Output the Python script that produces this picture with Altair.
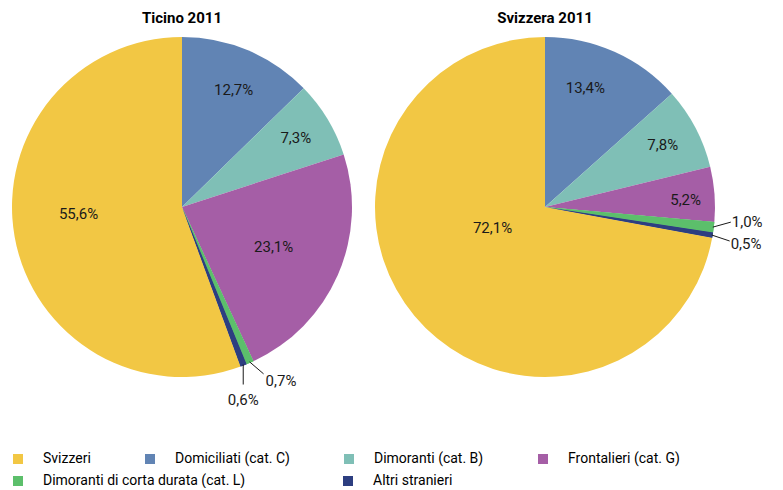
import altair as alt
import pandas as pd

# ---------------- data ----------------
regions = ["Ticino 2011", "Svizzera 2011"]
categories = [
    "Domiciliati (cat. C)",
    "Dimoranti (cat. B)",
    "Frontalieri (cat. G)",
    "Dimoranti di corta durata (cat. L)",
    "Altri stranieri",
    "Svizzeri",
]
ticino_values = [12.7, 7.3, 23.1, 0.7, 0.6, 55.6]
svizzera_values = [13.4, 7.8, 5.2, 1.0, 0.5, 72.1]

legend_order = [
    "Svizzeri",
    "Domiciliati (cat. C)",
    "Dimoranti (cat. B)",
    "Frontalieri (cat. G)",
    "Dimoranti di corta durata (cat. L)",
    "Altri stranieri",
]
legend_colors = ["#F2C744", "#6184B4", "#7FBFB6", "#A55EA6", "#5CBF6B", "#2D3E80"]

rows = []
for reg, vals in zip(regions, [ticino_values, svizzera_values]):
    for i, (c, v) in enumerate(zip(categories, vals)):
        rows.append({"region": reg, "category": c, "value": v, "order": i})
df = pd.DataFrame(rows)

# ---------------- layout ----------------
W, H = 767, 480
R = 170
CX_T, CX_S, CY = 174, 537, 199
FONT = "Roboto"

cx_expr = f"datum.region == 'Ticino 2011' ? {CX_T} : {CX_S}"

# manual nudges of the inner labels (dx, dy)
inner_nudge = {
    ("Ticino 2011", "Svizzeri"): (-5, -11),
    ("Ticino 2011", "Domiciliati (cat. C)"): (0, 6),
    ("Svizzera 2011", "Svizzeri"): (9, -30),
    ("Svizzera 2011", "Domiciliati (cat. C)"): (-14, 2),
    ("Svizzera 2011", "Frontalieri (cat. G)"): (8, 3),
}


def nudge_expr(idx):
    expr = "0"
    for (reg, cat), d in inner_nudge.items():
        expr = f"(datum.region == '{reg}' && datum.category == '{cat}') ? {d[idx]} : ({expr})"
    return expr


# leader/label layout for the small slices: (leader dx, leader dy, align, text dx, text dy)
small_layout = {
    ("Ticino 2011", "Dimoranti di corta durata (cat. L)"): (14, 12, "left", 2, 7),
    ("Ticino 2011", "Altri stranieri"): (0, 20, "center", 0, 15),
    ("Svizzera 2011", "Dimoranti di corta durata (cat. L)"): (18, -5, "left", 1, 0),
    ("Svizzera 2011", "Altri stranieri"): (18, 6, "left", 1, 3),
}

base = (
    alt.Chart(df)
    .transform_stack(
        stack="value",
        groupby=["region"],
        sort=[alt.SortField("order", order="ascending")],
        as_=["v0", "v1"],
    )
    .transform_calculate(
        a0="datum.v0 / 100 * 2 * PI",
        a1="datum.v1 / 100 * 2 * PI",
        cx=cx_expr,
        cy=str(CY),
        lab="replace(format(datum.value, '.1f'), '.', ',') + '%'",
        cat2="datum.category",
    )
    .transform_calculate(mid="(datum.a0 + datum.a1) / 2")
)

X = lambda f: alt.X(f, type="quantitative", scale=None, axis=None)
Y = lambda f: alt.Y(f, type="quantitative", scale=None, axis=None)

legend_common = dict(
    title=None,
    orient="none",
    legendX=3,
    direction="horizontal",
    symbolType="square",
    symbolSize=100,
    symbolStrokeWidth=0,
    labelFont=FONT,
    labelFontSize=14,
    labelOffset=18,
    labelColor="#000000",
    labelLimit=400,
)

arcs = base.mark_arc(radius=R, stroke=None).encode(
    x=X("cx"),
    y=Y("cy"),
    theta=alt.Theta("a0:Q", scale=None),
    theta2="a1:Q",
    color=alt.Color(
        "category:N",
        scale=alt.Scale(domain=legend_order, range=legend_colors),
        legend=alt.Legend(
            values=legend_order[:4],
            legendY=444,
            columns=4,
            columnPadding=52,
            **legend_common,
        ),
    ),
)

# second legend row (same slices drawn again with an independent fill scale)
arcs2 = (
    base.transform_filter(
        alt.FieldOneOfPredicate(field="category", oneOf=legend_order[4:])
    )
    .mark_arc(radius=R, stroke=None)
    .encode(
        x=X("cx"),
        y=Y("cy"),
        theta=alt.Theta("a0:Q", scale=None),
        theta2="a1:Q",
        fill=alt.Fill(
            "cat2:N",
            scale=alt.Scale(domain=legend_order[4:], range=legend_colors[4:]),
            legend=alt.Legend(
                legendY=466,
                columns=2,
                columnPadding=95,
                **legend_common,
            ),
        ),
    )
)

inner = (
    base.transform_filter("datum.value >= 3")
    .transform_calculate(
        lr="datum.value > 60 ? 80 : (datum.value >= 20 ? 100 : 133)",
        ndx=nudge_expr(0),
        ndy=nudge_expr(1),
    )
    .transform_calculate(
        lx="datum.cx + datum.lr * sin(datum.mid) + datum.ndx",
        ly="datum.cy - datum.lr * cos(datum.mid) + datum.ndy",
    )
    .mark_text(font=FONT, fontSize=15, color="#1a1a1a", align="center", baseline="middle")
    .encode(x=X("lx"), y=Y("ly"), text="lab:N")
)

layers = [arcs, arcs2, inner]

for (reg, cat), (ldx, ldy, al, tdx, tdy) in small_layout.items():
    sub = (
        base.transform_filter(
            f"datum.region == '{reg}' && datum.category == '{cat}'"
        )
        .transform_calculate(
            ex=f"datum.cx + {R - 1} * sin(datum.mid)",
            ey=f"datum.cy - {R - 1} * cos(datum.mid)",
        )
        .transform_calculate(
            ex2=f"datum.ex + {ldx}",
            ey2=f"datum.ey + {ldy}",
        )
    )
    rule = sub.mark_rule(color="#1a1a1a", strokeWidth=1).encode(
        x=X("ex"), y=Y("ey"), x2="ex2:Q", y2="ey2:Q"
    )
    txt = sub.mark_text(
        font=FONT, fontSize=15, color="#1a1a1a", align=al, baseline="middle",
        dx=tdx, dy=tdy,
    ).encode(x=X("ex2"), y=Y("ey2"), text="lab:N")
    layers += [rule, txt]

titles = (
    alt.Chart(pd.DataFrame({"region": regions}))
    .transform_calculate(cx=cx_expr)
    .mark_text(font=FONT, fontSize=15, fontWeight="bold", color="#000000",
               align="center", baseline="middle")
    .encode(x=X("cx"), y=alt.value(10), text="region:N")
)
layers.append(titles)

chart = (
    alt.layer(*layers)
    .resolve_scale(color="independent", fill="independent")
    .properties(width=W, height=H, autosize=alt.AutoSizeParams(type="none"), padding=0)
    .configure_view(stroke=None)
)

chart.save("out.html", embed_options={"renderer": "svg", "actions": False})
